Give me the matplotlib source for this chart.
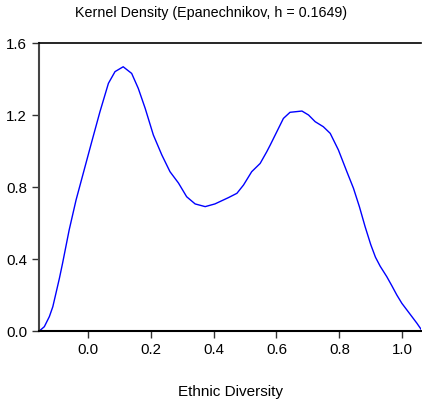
import matplotlib
matplotlib.use("Agg")
import matplotlib.pyplot as plt
import numpy as np

plt.rcParams['font.family'] = ['Liberation Sans', 'DejaVu Sans']

# density estimate
x_vals = [-0.155, -0.139, -0.123, -0.112, -0.102, -0.091, -0.081, -0.06, -0.038, -0.013,
          0.012, 0.038, 0.065, 0.086, 0.112, 0.139, 0.16, 0.182, 0.208, 0.235,
          0.261, 0.288, 0.314, 0.341, 0.373, 0.404, 0.447, 0.474, 0.495, 0.521,
          0.548, 0.569, 0.58, 0.601, 0.622, 0.643, 0.681, 0.702, 0.723, 0.749,
          0.771, 0.797, 0.824, 0.845, 0.864, 0.882, 0.9, 0.915, 0.93, 0.951,
          0.967, 0.983, 0.999, 1.015, 1.031, 1.047, 1.062]
density = [0.0, 0.024, 0.08, 0.135, 0.21, 0.293, 0.376, 0.561, 0.728, 0.89,
           1.052, 1.218, 1.376, 1.441, 1.468, 1.431, 1.348, 1.237, 1.089, 0.978,
           0.885, 0.822, 0.746, 0.706, 0.691, 0.706, 0.741, 0.765, 0.811, 0.885,
           0.931, 0.996, 1.033, 1.107, 1.181, 1.215, 1.222, 1.2, 1.163, 1.135,
           1.098, 1.006, 0.885, 0.793, 0.69, 0.58, 0.48, 0.41, 0.36, 0.302,
           0.252, 0.2, 0.154, 0.117, 0.08, 0.043, 0.005]

x_ticks = [0.0, 0.2, 0.4, 0.6, 0.8, 1.0]
y_ticks = [0.0, 0.4, 0.8, 1.2, 1.6]

fig = plt.figure(figsize=(4.22, 4.08), dpi=100)
ax = fig.add_axes([0.0924, 0.1887, 0.906, 0.7059])

ax.plot(x_vals, density, color='#0000ff', linewidth=1.0)

ax.set_xlim(-0.156, 1.061)
ax.set_ylim(0.0, 1.6)
ax.set_xticks(x_ticks)
ax.set_xticklabels([f'{v:.1f}' for v in x_ticks])
ax.set_yticks(y_ticks)
ax.set_yticklabels([f'{v:.1f}' for v in y_ticks])
ax.tick_params(direction='out', length=5, width=1, labelsize=10.8, colors='#333333',
               labelcolor='black')

ax.spines['right'].set_visible(False)
ax.spines['top'].set_color('black')
ax.spines['top'].set_linewidth(1.2)
ax.spines['left'].set_color('#444444')
ax.spines['left'].set_linewidth(1.5)
ax.spines['bottom'].set_color('black')
ax.spines['bottom'].set_linewidth(1.5)

ax.set_xlabel('Ethnic Diversity', fontsize=11, labelpad=20)
fig.text(0.5, 0.968, 'Kernel Density (Epanechnikov, h = 0.1649)', ha='center', va='center',
         fontsize=10.3)

fig.savefig('out.png', dpi=100)
